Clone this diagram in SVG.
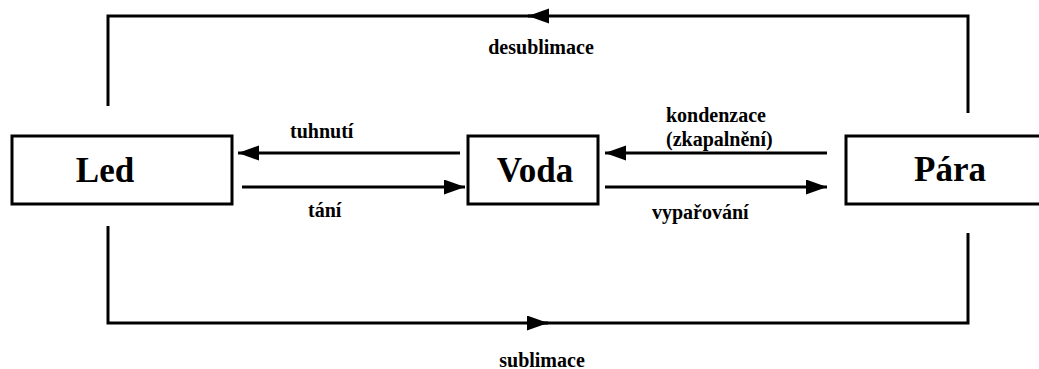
<svg xmlns="http://www.w3.org/2000/svg" width="1039" height="369" viewBox="0 0 1039 369">
<defs>
<marker id="arrow" markerUnits="userSpaceOnUse" markerWidth="22" markerHeight="16" refX="21" refY="7.5" orient="auto">
<path d="M0,0 L21,7.5 L0,15 z" fill="#000"/>
</marker>
<style>
.box{fill:#fff;stroke:#000;stroke-width:3}
.big{font-family:"Liberation Serif","Times New Roman",serif;font-weight:bold;font-size:35px;fill:#000;text-anchor:middle}
.lbl{font-family:"Liberation Serif","Times New Roman",serif;font-weight:bold;font-size:20px;fill:#000}
.ln{fill:none;stroke:#000;stroke-width:3}
</style>
</defs>
<rect width="1039" height="369" fill="#fff"/>
<g id="connectors">
<path class="ln" d="M968,113 V16 H528" marker-end="url(#arrow)"/>
<path class="ln" d="M545,16 H108 V106"/>
<path class="ln" d="M108,226 V323 H548" marker-end="url(#arrow)"/>
<path class="ln" d="M530,323 H968 V233"/>
<path class="ln" d="M460,153 H238" marker-end="url(#arrow)"/>
<path class="ln" d="M242,187 H465" marker-end="url(#arrow)"/>
<path class="ln" d="M827,153 H605" marker-end="url(#arrow)"/>
<path class="ln" d="M605,187 H827" marker-end="url(#arrow)"/>
<text class="lbl" x="541" y="54" text-anchor="middle">desublimace</text>
<text class="lbl" x="290" y="138">tuhnutí</text>
<text class="lbl" x="308" y="217">tání</text>
<text class="lbl" x="666" y="122">kondenzace</text>
<text class="lbl" x="666" y="146">(zkapalnění)</text>
<text class="lbl" x="652" y="219">vypařování</text>
<text class="lbl" x="542" y="367" text-anchor="middle">sublimace</text>
</g>
<g id="led">
<rect class="box" x="12" y="136" width="220" height="68"/>
<text class="big" x="105" y="182">Led</text>
</g>
<g id="voda">
<rect class="box" x="468" y="136" width="130" height="68"/>
<text class="big" x="535" y="182">Voda</text>
</g>
<g id="para">
<rect class="box" x="846" y="136" width="200" height="68"/>
<text class="big" x="950" y="181">Pára</text>
</g>
</svg>
